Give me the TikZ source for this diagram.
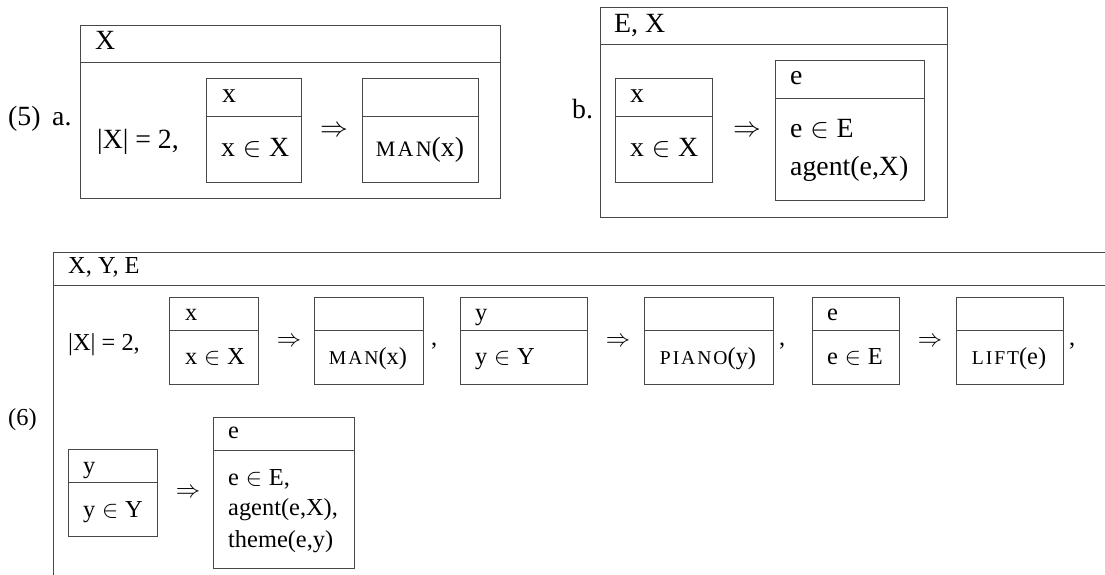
\documentclass[tikz,border=0pt]{standalone}
\usepackage{fix-cm}
\usepackage{fontspec}
\setmainfont{Liberation Serif}
\newcommand\fA{\fontsize{27.8}{32}\selectfont}
\newcommand\fB{\fontsize{24.4}{28}\selectfont}
\newcommand\scA[1]{{\fontsize{22}{26}\selectfont\addfontfeatures{LetterSpace=10}#1}}
\newcommand\scB[1]{{\fontsize{19.6}{23}\selectfont\addfontfeatures{LetterSpace=10}#1}}
\newcommand\elem{${}\in{}$}
\tikzset{
  boxline/.style={draw=black!72, line width=0.9pt},
  ta/.style={anchor=base west, inner sep=0pt, font=\fA},
  tac/.style={anchor=base, inner sep=0pt, font=\fA},
  tb/.style={anchor=base west, inner sep=0pt, font=\fB},
  tbc/.style={anchor=base, inner sep=0pt, font=\fB},
  imp/.style={anchor=center, inner sep=0pt},
}
\begin{document}
\begin{tikzpicture}[x=1pt,y=-1pt]
\useasboundingbox (0,0) rectangle (1105,575);
% ---------- (5) a.
\draw[boxline] (80,25) rectangle (500,198);
\draw[boxline] (80,62) -- (500,62);
\node[ta] (n5) at (8,125) {(5)};
\node[ta] (na) at (52,125) {a.};
\node[ta] (aX) at (95,50) {X};
\node[ta] (aeq) at (97,148) {|X| = 2,};
\draw[boxline] (206,78) rectangle (301,182);
\draw[boxline] (206,116) -- (301,116);
\node[ta] (ax) at (222,103) {x};
\node[ta] (axX) at (221,157) {x\elem X};
\node[imp,font=\fA] (aimp) at (334,131) {$\Rightarrow$};
\draw[boxline] (362,78) rectangle (478,182);
\draw[boxline] (362,116) -- (478,116);
\node[tac] (aman) at (420,157) {\scA{MAN}(x)};
% ---------- (5) b.
\draw[boxline] (600,7) rectangle (947,217);
\draw[boxline] (600,44) -- (947,44);
\node[ta] (nb) at (572,118) {b.};
\node[ta] (bEX) at (614,33) {E, X};
\draw[boxline] (615,78) rectangle (712,182);
\draw[boxline] (615,116) -- (712,116);
\node[ta] (bx) at (630,103) {x};
\node[ta] (bxX) at (630,157) {x\elem X};
\node[imp,font=\fA] (bimp) at (747,131) {$\Rightarrow$};
\draw[boxline] (775,60) rectangle (924,200);
\draw[boxline] (775,98) -- (924,98);
\node[ta] (be) at (790,85) {e};
\node[ta] (beE) at (790,138) {e\elem E};
\node[ta] (bag) at (790,175) {agent(e,X)};
% ---------- (6)
\draw[boxline] (1110,252) -- (53,252) -- (53,580);
\draw[boxline] (53,285) -- (1110,285);
\node[tb] (n6) at (8,425) {(6)};
\node[tb] (cXYE) at (68,273) {X, Y, E};
\node[tb] (ceq) at (68,350) {|X| = 2,};
% box x
\draw[boxline] (169,297) rectangle (258,384);
\draw[boxline] (169,330) -- (258,330);
\node[tb] (cx) at (185,320) {x};
\node[tb] (cxX) at (185,364) {x\elem X};
\node[imp,font=\fB] (cimp1) at (289,342) {$\Rightarrow$};
\draw[boxline] (314,297) rectangle (423,384);
\draw[boxline] (314,330) -- (423,330);
\node[tbc] (cman) at (368,364) {\scB{MAN}(x)};
\node[tb] (cc1) at (431,345) {,};
% box y
\draw[boxline] (460,297) rectangle (587,384);
\draw[boxline] (460,330) -- (587,330);
\node[tb] (cy) at (475,320) {y};
\node[tb] (cyY) at (475,364) {y\elem Y};
\node[imp,font=\fB] (cimp2) at (618,342) {$\Rightarrow$};
\draw[boxline] (644,297) rectangle (773,384);
\draw[boxline] (644,330) -- (773,330);
\node[tbc] (cpiano) at (708,364) {\scB{PIANO}(y)};
\node[tb] (cc2) at (779,345) {,};
% box e
\draw[boxline] (812,297) rectangle (899,384);
\draw[boxline] (812,330) -- (899,330);
\node[tb] (ce) at (827,320) {e};
\node[tb] (ceE) at (827,364) {e\elem E};
\node[imp,font=\fB] (cimp3) at (930,342) {$\Rightarrow$};
\draw[boxline] (956,297) rectangle (1063,384);
\draw[boxline] (956,330) -- (1063,330);
\node[tbc] (clift) at (1009,364) {\scB{LIFT}(e)};
\node[tb] (cc3) at (1069,345) {,};
% row 2
\draw[boxline] (68,449) rectangle (157,536);
\draw[boxline] (68,482) -- (157,482);
\node[tb] (dy) at (83,473) {y};
\node[tb] (dyY) at (83,517) {y\elem Y};
\node[imp,font=\fB] (dimp) at (188,493) {$\Rightarrow$};
\draw[boxline] (213,417) rectangle (354,568);
\draw[boxline] (213,450) -- (354,450);
\node[tb] (de) at (228,438) {e};
\node[tb] (deE) at (228,485) {e\elem E,};
\node[tb] (dag) at (228,515) {agent(e,X),};
\node[tb] (dth) at (228,547) {theme(e,y)};
\end{tikzpicture}
\end{document}
